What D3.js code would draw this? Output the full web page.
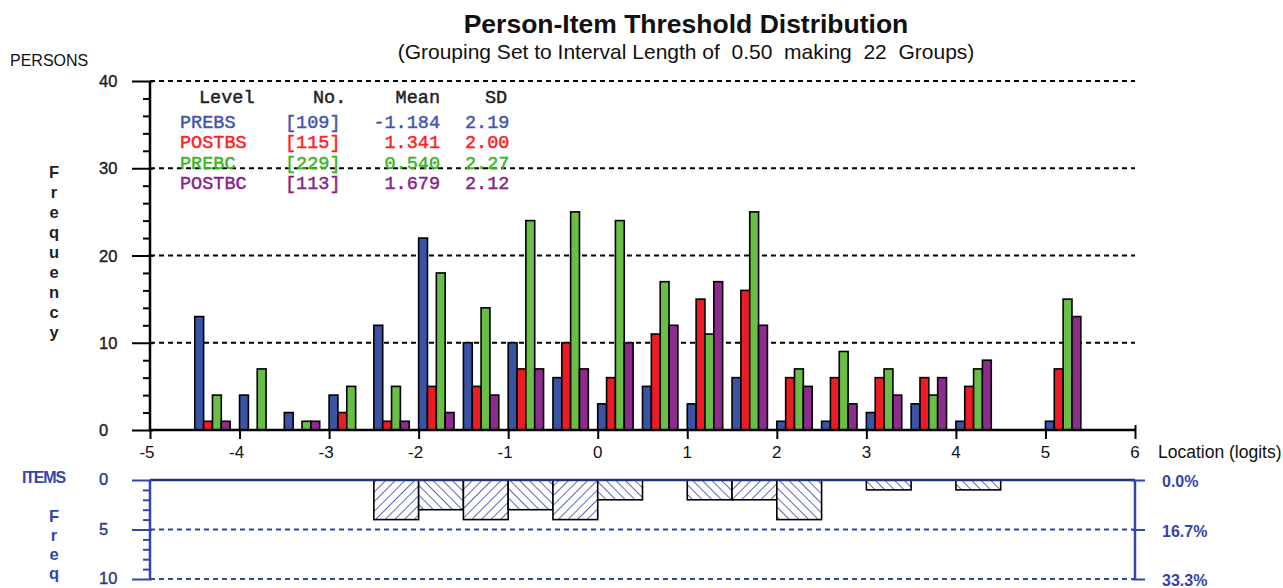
<!DOCTYPE html>
<html><head><meta charset="utf-8">
<script src="https://cdn.jsdelivr.net/npm/d3@7"></script>
<style>
body{margin:0;background:#fff;}
</style>
</head><body>
<svg id="c" width="1283" height="588" font-family="'Liberation Sans',Arial,sans-serif"></svg>
<script>
// ---------- DATA ----------
const groupStarts = [-5,-4.5,-4,-3.5,-3,-2.5,-2,-1.5,-1,-0.5,0,0.5,1,1.5,2,2.5,3,3.5,4,4.5,5,5.5];
const prebs  = [0,13,4,2,4,12,22,10,10,6,3,5,3,6,1,1,2,3,1,0,1,0];
const postbs = [0,1,0,0,2,1,5,5,7,10,6,11,15,16,6,6,6,6,5,0,7,0];
const prebc  = [0,4,7,1,5,5,18,14,24,25,24,17,11,25,7,9,7,4,7,0,15,0];
const postbc = [0,1,0,1,0,1,2,4,7,7,10,12,17,12,5,3,4,6,8,0,13,0];
const items  = [0,0,0,0,0,4,3,4,3,4,2,0,2,2,4,0,1,0,1,0,0,0];
const seriesNames = ["PREBS","POSTBS","PREBC","POSTBC"];
const seriesN     = ["[109]","[115]","[229]","[113]"];
const seriesMean  = ["-1.184","1.341","0.540","1.679"];
const seriesSD    = ["2.19","2.00","2.27","2.12"];
const xTicks = [-5,-4,-3,-2,-1,0,1,2,3,4,5,6];
const yTicks = [0,10,20,30,40];
const itemTicks = [0,5,10];
const pctLabels = ["0.0%","16.7%","33.3%"];
const groupWidth = 0.5;

// ---------- STYLE ----------
const barColors  = ["#3a53a4","#ec1c24","#6abd45","#8e2c8e"];
const textColors = ["#4455aa","#ff2020","#3cb521","#882288"];
const blue = "#3344aa";
const mono = "'Liberation Mono','Courier New',monospace";

const svg = d3.select("#c");
const x = d3.scaleLinear().domain([-5,6]).range([150,1135]);
const y = d3.scaleLinear().domain([0,40]).range([430,81]);
const yi = d3.scaleLinear().domain([0,10]).range([480,579]);
const gw = x(groupWidth) - x(0);
const band = d3.scaleBand().domain(seriesNames).range([0, gw*0.79]);

const data = [prebs, postbs, prebc, postbc];

// Title
svg.append("text").attr("x",686).attr("y",33).attr("text-anchor","middle")
  .style("font-size","26.5px").style("font-weight","bold").style("fill","#111").text("Person-Item Threshold Distribution");
svg.append("text").attr("x",686).attr("y",59).attr("text-anchor","middle")
  .style("font-size","21px").style("white-space","pre").style("fill","#111")
  .text("(Grouping Set to Interval Length of  0.50  making  22  Groups)");

svg.append("text").attr("x",10).attr("y",66).style("font-size","16px").style("fill","#111").text("PERSONS");

// vertical "Frequency"
"Frequency".split("").forEach((ch,i)=>{
  svg.append("text").attr("x",54).attr("y",178+i*20).attr("text-anchor","middle")
   .style("font-size","16.5px").style("font-weight","bold").style("fill","#222").text(ch);
});

// grid dashed lines
svg.append("g").selectAll("line").data(yTicks.filter(d=>d>0)).join("line")
  .attr("x1",x(-5)).attr("x2",x(6)).attr("y1",d=>y(d)).attr("y2",d=>y(d))
  .attr("stroke","#000").attr("stroke-width",2).attr("stroke-dasharray","5,4");

// bars
data.forEach((arr,si)=>{
  svg.append("g").selectAll("rect").data(arr.map((v,i)=>({v,i})).filter(d=>d.v>0)).join("rect")
    .attr("x",d=>x(groupStarts[d.i])+band(seriesNames[si]))
    .attr("width",band.bandwidth())
    .attr("y",d=>y(d.v))
    .attr("height",d=>y(0)-y(d.v))
    .attr("fill",barColors[si]).attr("stroke","#000").attr("stroke-width",1.6);
});

// y axis (persons)
const yAxis = d3.axisLeft(y).tickValues(d3.range(0,41,2)).tickSize(7).tickFormat("");
const gy = svg.append("g").attr("transform","translate(150,0)").call(yAxis);
gy.select(".domain").attr("stroke","#000").attr("stroke-width",2.5).attr("d","M0,"+y(40)+"V"+y(0));
gy.selectAll(".tick line").attr("stroke","#000").attr("stroke-width",2)
  .attr("x2",d=>d%10===0?-18:-7).attr("x1",d=>d%10===0?3:0);
svg.append("g").selectAll("text").data(yTicks).join("text")
  .attr("x",99).attr("y",d=>y(d)+6)
  .style("font-size","16.5px").style("fill","#222").style("stroke","#222").style("stroke-width","0.4px").text(d=>d);

// x axis
const xAxis = d3.axisBottom(x).tickValues(xTicks).tickSize(9).tickFormat("");
const gx = svg.append("g").attr("transform","translate(0,430)").call(xAxis);
gx.select(".domain").attr("stroke","#000").attr("stroke-width",2.5).attr("d","M"+x(-5)+",0H"+x(6));
gx.selectAll(".tick line").attr("stroke","#000").attr("stroke-width",2).attr("y1",d=>d===6?-5:0);
svg.append("g").selectAll("text").data(xTicks).join("text")
  .attr("x",d=>x(d)-(d<0?3:0)).attr("y",458).attr("text-anchor","middle")
  .style("font-size","17px").style("fill","#111").text(d=>d);
svg.append("text").attr("x",1158).attr("y",458).style("font-size","17.5px").style("fill","#111").text("Location (logits)");

// legend
const lg = svg.append("g");
function lt(xp, yp, t, col, anchor){
  lg.append("text").attr("x",xp).attr("y",yp).attr("text-anchor",anchor||"start")
    .attr("font-family",mono).style("font-size","18.5px")
    .style("fill",col).style("stroke",col).style("stroke-width","0.45px").text(t);
}
lt(199,103,"Level","#222");
lt(313,103,"No.","#222");
lt(440,103,"Mean","#222","end");
lt(485,103,"SD","#222");
seriesNames.forEach((n,i)=>{
  const yy = 128 + i*20.3;
  lt(180,yy,n,textColors[i]);
  lt(285,yy,seriesN[i],textColors[i]);
  lt(440,yy,seriesMean[i],textColors[i],"end");
  lt(465,yy,seriesSD[i],textColors[i]);
});

// ---------- ITEMS PANEL ----------
const defs = svg.append("defs");
[["hatchA",45],["hatchB",-45]].forEach(([id,rot])=>{
  const p = defs.append("pattern").attr("id",id).attr("patternUnits","userSpaceOnUse")
    .attr("width",6.8).attr("height",6.8).attr("patternTransform","rotate("+rot+")");
  p.append("rect").attr("width",6.8).attr("height",6.8).attr("fill","#fff");
  p.append("line").attr("x1",0).attr("y1",0).attr("x2",0).attr("y2",6.8).attr("stroke","#3344aa").attr("stroke-width",1.6);
});

svg.append("text").attr("x",22).attr("y",483).style("font-size","16px").style("font-weight","bold")
  .style("fill",blue).style("letter-spacing","-1.2px").text("ITEMS");
"Freq".split("").forEach((ch,i)=>{
  svg.append("text").attr("x",54).attr("y",522+i*19).attr("text-anchor","middle")
   .style("font-size","16.5px").style("font-weight","bold").style("fill",blue).text(ch);
});

// dashed item grid
svg.append("g").selectAll("line").data(itemTicks.filter(d=>d>0)).join("line")
  .attr("x1",x(-5)).attr("x2",x(6)).attr("y1",d=>yi(d)).attr("y2",d=>yi(d))
  .attr("stroke",blue).attr("stroke-width",2).attr("stroke-dasharray","5,4");

// item bars
svg.append("g").selectAll("rect").data(items.map((v,i)=>({v,i})).filter(d=>d.v>0)).join("rect")
  .attr("x",d=>x(groupStarts[d.i])).attr("width",gw)
  .attr("y",yi(0)).attr("height",d=>yi(d.v)-yi(0))
  .attr("fill",d=>d.i%2===1?"url(#hatchA)":"url(#hatchB)")
  .attr("stroke","#000").attr("stroke-width",1.6);

// item x baseline
svg.append("line").attr("x1",x(-5)).attr("x2",x(6)).attr("y1",yi(0)).attr("y2",yi(0))
  .attr("stroke","#23307a").attr("stroke-width",2.5);

// left item axis
const yiAxis = d3.axisLeft(yi).tickValues(d3.range(0,11,1)).tickSize(7).tickFormat("");
const giy = svg.append("g").attr("transform","translate(150,0)").call(yiAxis);
giy.select(".domain").attr("stroke",blue).attr("stroke-width",2.5).attr("d","M0,"+yi(0)+"V"+yi(10));
giy.selectAll(".tick line").attr("stroke",blue).attr("stroke-width",2)
  .attr("x2",d=>d%5===0?-18:-7).attr("x1",d=>d%5===0?2:0);
svg.append("g").selectAll("text").data(itemTicks).join("text")
  .attr("x",99).attr("y",d=>yi(d)+5)
  .style("font-size","16.5px").style("fill","#2a3a8a").style("stroke","#2a3a8a").style("stroke-width","0.4px").text(d=>d);

// right item axis
const yrAxis = d3.axisRight(yi).tickValues(itemTicks).tickSize(10).tickFormat("");
const gir = svg.append("g").attr("transform","translate(1135,0)").call(yrAxis);
gir.select(".domain").attr("stroke",blue).attr("stroke-width",2.5).attr("d","M0,"+yi(0)+"V"+yi(10));
gir.selectAll(".tick line").attr("stroke",blue).attr("stroke-width",2).attr("x1",-3);
svg.append("g").selectAll("text").data(itemTicks).join("text")
  .attr("x",1162).attr("y",(d)=>yi(d)+7)
  .style("font-size","16px").style("font-weight","bold").style("fill",blue).text((d,i)=>pctLabels[i]);
</script>
</body></html>
